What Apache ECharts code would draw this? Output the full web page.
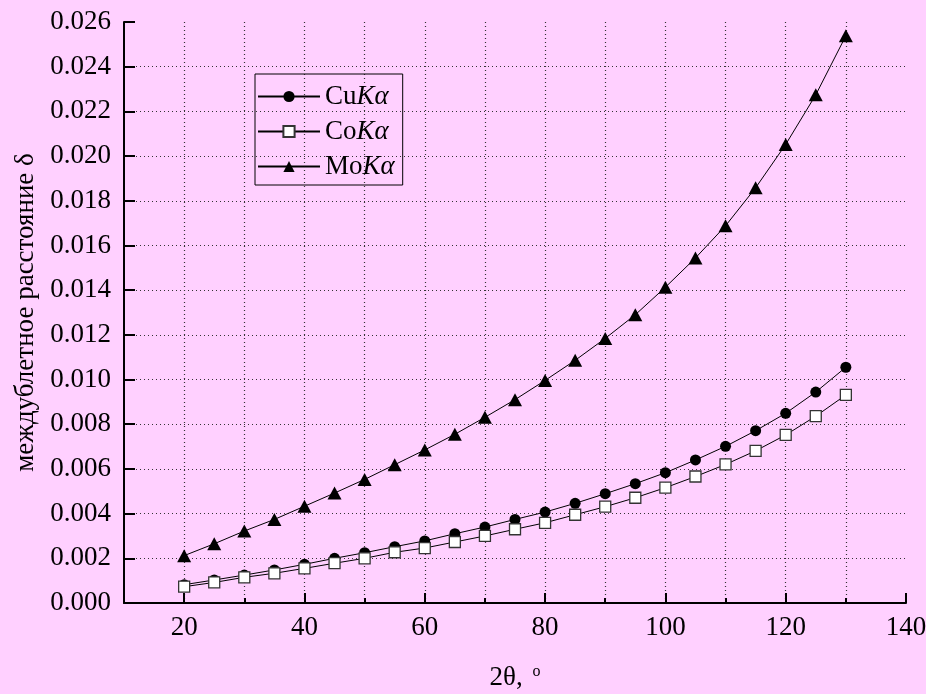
<!DOCTYPE html>
<html>
<head>
<meta charset="utf-8">
<script src="https://cdn.jsdelivr.net/npm/echarts@6/dist/echarts.min.js"></script>
<style>
  html, body { margin: 0; padding: 0; background: #ffd0ff; }
  #chart { width: 926px; height: 694px; }
</style>
</head>
<body>
<div id="chart"></div>
<script>
// 2θ, degrees
const twoTheta = [20, 25, 30, 35, 40, 45, 50, 55, 60, 65, 70, 75, 80, 85, 90, 95, 100, 105, 110, 115, 120, 125, 130]

const cuKa = [0.00082, 0.00103, 0.00125, 0.00148, 0.00173, 0.00200, 0.00225, 0.00252, 0.00278, 0.00310, 0.00340, 0.00374,
  0.00407, 0.00446, 0.00489, 0.00534, 0.00583, 0.00640, 0.00701, 0.00771, 0.00849, 0.00944, 0.01055]
const coKa = [0.00073, 0.00092, 0.00115, 0.00133, 0.00155, 0.00178, 0.00200, 0.00227, 0.00246, 0.00273, 0.00300, 0.00330,
  0.00359, 0.00395, 0.00431, 0.00471, 0.00516, 0.00566, 0.00620, 0.00681, 0.00752, 0.00836, 0.00931]
const moKa = [0.00212, 0.00265, 0.00322, 0.00374, 0.00433, 0.00492, 0.00553, 0.00619, 0.00685, 0.00755, 0.00831, 0.00910,
  0.00996, 0.01086, 0.01184, 0.01290, 0.01413, 0.01544, 0.01688, 0.01858, 0.02052, 0.02274, 0.02538]

const seriesNames = ['CuKα', 'CoKα', 'MoKα']
const xTickValues = ['10', '20', '30', '40', '50', '60', '70', '80', '90', '100', '110', '120', '130', '140']

const FONT = '"Liberation Serif", "DejaVu Serif", serif'
const FS = 27
const dotted = { color: '#333', type: [1, 3], width: 1.2 }
const axisBlack = { color: '#000', width: 2 }

const chart = echarts.init(document.getElementById('chart'), null, { renderer: 'canvas' })

const pairs = (values) => twoTheta.map((x, i) => [x, values[i]])

const option = {
  animation: false,
  backgroundColor: '#ffd0ff',
  textStyle: { fontFamily: FONT, color: '#000' },
  grid: { left: 124, right: 20, top: 22, bottom: 91, containLabel: false, outerBoundsMode: 'none' },
  legend: {
    data: seriesNames,
    orient: 'vertical',
    left: 255,
    top: 74,
    padding: [9, 8, 5, 2],
    itemGap: 8,
    itemWidth: 62,
    itemHeight: 14,
    borderColor: '#000',
    borderWidth: 1,
    formatter: (name) => name.slice(0, 2) + '{i|Kα}',
    textStyle: {
      fontFamily: FONT,
      fontSize: FS,
      color: '#000',
      rich: {
        i: { fontFamily: FONT, fontSize: FS, fontStyle: 'italic', color: '#000' },
      },
    },
  },
  xAxis: [
    {
      type: 'value',
      min: 10,
      max: 140,
      interval: 10,
      position: 'bottom',
      axisLine: { show: true, onZero: false, lineStyle: axisBlack },
      axisTick: { show: true, inside: true, length: 5, lineStyle: axisBlack },
      axisLabel: {
        fontFamily: FONT,
        fontSize: FS,
        color: '#000',
        margin: 11,
        formatter: (v) => (v % 20 === 0 ? String(v) : ''),
      },
      splitLine: { show: true, showMinLine: false, showMaxLine: false, lineStyle: dotted },
      name: '2θ, {s|o}',
      nameLocation: 'middle',
      nameGap: 61,
      nameTextStyle: {
        fontFamily: FONT,
        fontSize: FS,
        color: '#000',
        rich: {
          s: { fontFamily: FONT, fontSize: 16, color: '#000', verticalAlign: 'top', padding: [0, 0, 0, 3] },
        },
      },
    },
    {
      // long ticks at every labelled value
      type: 'category',
      data: xTickValues,
      boundaryGap: false,
      position: 'bottom',
      axisLine: { show: false },
      axisTick: { show: true, inside: true, length: 10, interval: (i) => i % 2 === 1, lineStyle: axisBlack },
      axisLabel: { show: false },
      splitLine: { show: false },
    },
  ],
  yAxis: {
    type: 'value',
    min: 0,
    max: 0.026,
    interval: 0.002,
    axisLine: { show: true, onZero: false, lineStyle: axisBlack },
    axisTick: { show: true, inside: true, length: 11, lineStyle: axisBlack },
    axisLabel: {
      fontFamily: FONT,
      fontSize: FS,
      color: '#000',
      margin: 13,
      formatter: (v) => v.toFixed(3),
    },
    splitLine: { show: true, showMinLine: false, showMaxLine: false, lineStyle: dotted },
    name: 'междублетное расстояние δ',
    nameLocation: 'middle',
    nameGap: 81,
    nameTextStyle: { fontFamily: FONT, fontSize: FS, color: '#000' },
  },
  series: [
    {
      name: seriesNames[0],
      type: 'line',
      data: pairs(cuKa),
      symbol: 'circle',
      symbolSize: 11,
      itemStyle: { color: '#000' },
      lineStyle: { color: '#000', width: 1 },
    },
    {
      name: seriesNames[1],
      type: 'line',
      data: pairs(coKa),
      symbol: 'rect',
      symbolSize: 11,
      itemStyle: { color: '#fff', borderColor: '#333', borderWidth: 1.3 },
      lineStyle: { color: '#000', width: 1 },
    },
    {
      name: seriesNames[2],
      type: 'line',
      data: pairs(moKa),
      symbol: 'triangle',
      symbolSize: [14, 13],
      itemStyle: { color: '#000' },
      lineStyle: { color: '#000', width: 1 },
    },
  ],
}

chart.setOption(option)
</script>
</body>
</html>
